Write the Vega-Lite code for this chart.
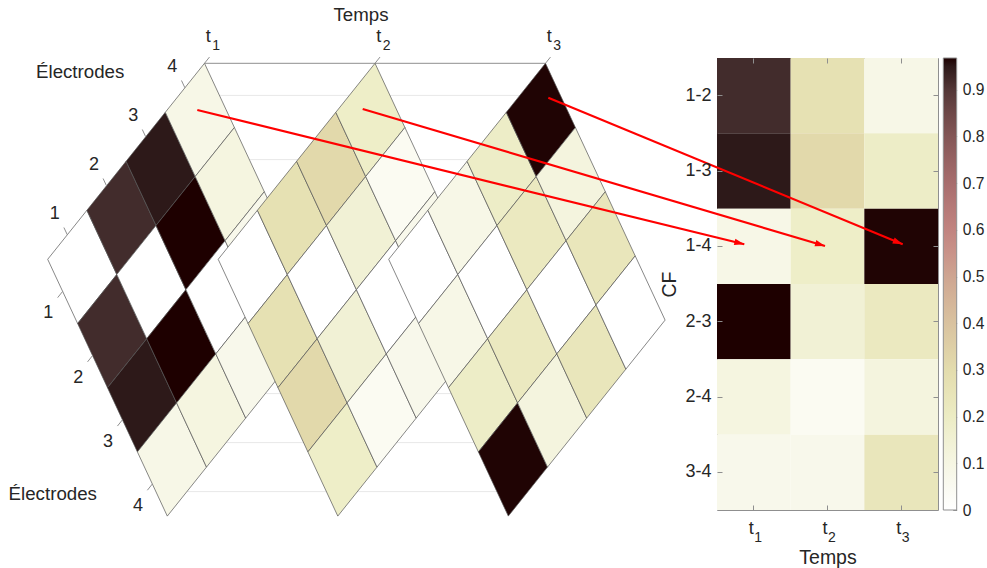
{
"$schema":"https://vega.github.io/schema/vega-lite/v6.json",
"width":221,"height":452,
"autosize":{"type":"none"},
"padding":{"left":717,"top":58,"right":49,"bottom":58},
"background":"white",
"config":{"font":"Liberation Sans","view":{"stroke":"#8f8f8f","strokeWidth":1},"text":{"font":"Liberation Sans","color":"#262626","fontSize":18}},
"datasets":{
"cells":[
{"t":"t₁","i":1,"j":1,"cf":0},{"t":"t₁","i":1,"j":2,"pair":"1-2","cf":0.925},{"t":"t₁","i":1,"j":3,"pair":"1-3","cf":0.95},{"t":"t₁","i":1,"j":4,"pair":"1-4","cf":0.087},
{"t":"t₁","i":2,"j":1,"pair":"1-2","cf":0.925},{"t":"t₁","i":2,"j":2,"cf":0},{"t":"t₁","i":2,"j":3,"pair":"2-3","cf":0.968},{"t":"t₁","i":2,"j":4,"pair":"2-4","cf":0.11},
{"t":"t₁","i":3,"j":1,"pair":"1-3","cf":0.95},{"t":"t₁","i":3,"j":2,"pair":"2-3","cf":0.968},{"t":"t₁","i":3,"j":3,"cf":0},{"t":"t₁","i":3,"j":4,"pair":"3-4","cf":0.07},
{"t":"t₁","i":4,"j":1,"pair":"1-4","cf":0.087},{"t":"t₁","i":4,"j":2,"pair":"2-4","cf":0.11},{"t":"t₁","i":4,"j":3,"pair":"3-4","cf":0.07},{"t":"t₁","i":4,"j":4,"cf":0},
{"t":"t₂","i":1,"j":1,"cf":0},{"t":"t₂","i":1,"j":2,"pair":"1-2","cf":0.27},{"t":"t₂","i":1,"j":3,"pair":"1-3","cf":0.31},{"t":"t₂","i":1,"j":4,"pair":"1-4","cf":0.186},
{"t":"t₂","i":2,"j":1,"pair":"1-2","cf":0.27},{"t":"t₂","i":2,"j":2,"cf":0},{"t":"t₂","i":2,"j":3,"pair":"2-3","cf":0.146},{"t":"t₂","i":2,"j":4,"pair":"2-4","cf":0.045},
{"t":"t₂","i":3,"j":1,"pair":"1-3","cf":0.31},{"t":"t₂","i":3,"j":2,"pair":"2-3","cf":0.146},{"t":"t₂","i":3,"j":3,"cf":0},{"t":"t₂","i":3,"j":4,"pair":"3-4","cf":0.072},
{"t":"t₂","i":4,"j":1,"pair":"1-4","cf":0.186},{"t":"t₂","i":4,"j":2,"pair":"2-4","cf":0.045},{"t":"t₂","i":4,"j":3,"pair":"3-4","cf":0.072},{"t":"t₂","i":4,"j":4,"cf":0},
{"t":"t₃","i":1,"j":1,"cf":0},{"t":"t₃","i":1,"j":2,"pair":"1-2","cf":0.087},{"t":"t₃","i":1,"j":3,"pair":"1-3","cf":0.19},{"t":"t₃","i":1,"j":4,"pair":"1-4","cf":0.965},
{"t":"t₃","i":2,"j":1,"pair":"1-2","cf":0.087},{"t":"t₃","i":2,"j":2,"cf":0},{"t":"t₃","i":2,"j":3,"pair":"2-3","cf":0.218},{"t":"t₃","i":2,"j":4,"pair":"2-4","cf":0.117},
{"t":"t₃","i":3,"j":1,"pair":"1-3","cf":0.19},{"t":"t₃","i":3,"j":2,"pair":"2-3","cf":0.218},{"t":"t₃","i":3,"j":3,"cf":0},{"t":"t₃","i":3,"j":4,"pair":"3-4","cf":0.237},
{"t":"t₃","i":4,"j":1,"pair":"1-4","cf":0.965},{"t":"t₃","i":4,"j":2,"pair":"2-4","cf":0.117},{"t":"t₃","i":4,"j":3,"pair":"3-4","cf":0.237},{"t":"t₃","i":4,"j":4,"cf":0}
],
"grille":[{"t":"t₁","e":1},{"t":"t₃","e":1},{"t":"t₁","e":2},{"t":"t₃","e":2},{"t":"t₁","e":3},{"t":"t₃","e":3},{"t":"t₁","e":4},{"t":"t₃","e":4}],
"axe":[{"t":"t₁"},{"t":"t₂"},{"t":"t₃"}],
"fleches":[{"t":"t₁","bout":"origine"},{"t":"t₁","bout":"cible"},{"t":"t₂","bout":"origine"},{"t":"t₂","bout":"cible"},{"t":"t₃","bout":"origine"},{"t":"t₃","bout":"cible"}]
},
"resolve":{"scale":{"x":"independent","y":"independent","xOffset":"independent","yOffset":"independent"},"axis":{"x":"independent","y":"independent"},"legend":{"fill":"independent"}},
"layer":[
{
 "data":{"name":"grille"},
 "encoding":{"x":{"field":"t","type":"ordinal","axis":null,"scale":{"type":"point","domain":["t₁","t₂","t₃"],"range":[-512.5,-171.5],"padding":0}}},
 "layer":[
  {"mark":{"type":"line","color":"#e8e8e8","strokeWidth":1},
   "encoding":{"xOffset":{"field":"e","type":"quantitative","scale":{"type":"linear","domain":[0.5,4.5],"range":[0,119.6],"zero":false,"nice":false}},
     "y":{"field":"e","type":"quantitative","axis":null,"scale":{"type":"linear","domain":[0.5,4.5],"range":[5.3,262.1],"zero":false,"nice":false}},
     "detail":{"field":"e","type":"nominal"}}},
  {"data":{"name":"axe"},"mark":{"type":"line","color":"#8f8f8f","strokeWidth":1},
   "encoding":{"y":{"datum":0.5,"type":"quantitative","axis":null,"scale":{"type":"linear","domain":[0.5,4.5],"range":[5.3,262.1],"zero":false,"nice":false}}}}
 ]
},
{
 "data":{"name":"grille"},
 "mark":{"type":"line","color":"#e8e8e8","strokeWidth":1},
 "encoding":{"x":{"field":"t","type":"ordinal","axis":null,"scale":{"type":"point","domain":["t₁","t₂","t₃"],"range":[-549.7,-208.7],"padding":0}},
   "xOffset":{"field":"e","type":"quantitative","scale":{"type":"linear","domain":[0.5,4.5],"range":[0,156.8],"zero":false,"nice":false}},
   "y":{"field":"e","type":"quantitative","axis":null,"scale":{"type":"linear","domain":[0.5,4.5],"range":[458.1,262.1],"zero":false,"nice":false}},
   "detail":{"field":"e","type":"nominal"}}
},
{
 "data":{"name":"cells"},
 "transform":[{"filter":"datum.t === 't₁'"}],
 "encoding":{
   "x":{"field":"i","type":"ordinal","axis":null,"scale":{"type":"point","domain":[1,2,3,4],"range":[-669.3,-551.7],"padding":0}},
   "xOffset":{"field":"j","type":"quantitative","scale":{"type":"linear","domain":[0,4],"range":[4.65,124.25],"zero":false,"nice":false}},
   "y":{"field":"i","type":"ordinal","axis":null,"scale":{"type":"point","domain":[4,3,2,1],"range":[5.3,152.3],"padding":0}},
   "yOffset":{"field":"j","type":"quantitative","scale":{"type":"linear","domain":[0,4],"range":[-7.6,249.2],"zero":false,"nice":false}}
 },
 "layer":[
  {"mark":{"type":"point","shape":"M-34.55,-7.6L4.65,-56.6L34.55,7.6L-4.65,56.6Z","size":4,"filled":true,"opacity":1,"stroke":"#555555","strokeWidth":0.7},
   "encoding":{"fill":{"field":"cf","type":"quantitative","legend":null,"scale":{"type":"linear","domain":[0,0.0968,0.1936,0.2904,0.3872,0.484,0.5808,0.6776,0.7744,0.8712,0.9196,0.9438,0.968],"range":["#ffffff","#f6f6e4","#ededc6","#e4deae","#dac6a1","#d0aa93","#c68984","#ae7272","#8e5d5d","#654242","#472f2f","#322121","#1e0000"],"interpolate":"rgb"}}}},
  {"transform":[{"filter":"datum.i === 4 && datum.j === 1"}],"mark":{"type":"point","shape":"M4.65,-56.6L9.65,-62.85","size":4,"filled":false,"opacity":1,"stroke":"#8f8f8f","strokeWidth":1}},
  {"transform":[{"filter":"datum.i === 4 && datum.j === 1"}],"mark":{"type":"text","text":"t","align":"left","baseline":"alphabetic","dx":6,"dy":-78,"fontSize":18}},
  {"transform":[{"filter":"datum.i === 4 && datum.j === 1"}],"mark":{"type":"text","text":"1","align":"left","baseline":"alphabetic","dx":12.5,"dy":-70,"fontSize":14}},
  {"transform":[{"filter":"datum.j === 1"}],"mark":{"type":"point","shape":"M-14.95,-32.1L-18.35,-39.4","size":4,"filled":false,"opacity":1,"stroke":"#8f8f8f","strokeWidth":1}},
  {"transform":[{"filter":"datum.j === 1"}],"mark":{"type":"text","align":"center","baseline":"middle","dx":-27.5,"dy":-53.2,"fontSize":18},"encoding":{"text":{"field":"i","type":"nominal"}}},
  {"transform":[{"filter":"datum.i === 1"}],"mark":{"type":"point","shape":"M-19.6,24.5L-24.6,30.75","size":4,"filled":false,"opacity":1,"stroke":"#8f8f8f","strokeWidth":1}},
  {"transform":[{"filter":"datum.i === 1"}],"mark":{"type":"text","align":"center","baseline":"middle","dx":-34,"dy":46.4,"fontSize":18},"encoding":{"text":{"field":"j","type":"nominal"}}},
  {"transform":[{"filter":"datum.i === 4 && datum.j === 1"}],"mark":{"type":"text","text":"Électrodes","align":"center","baseline":"alphabetic","dx":-119.7,"dy":-41.6,"fontSize":18.7}},
  {"transform":[{"filter":"datum.i === 1 && datum.j === 4"}],"mark":{"type":"text","text":"Électrodes","align":"center","baseline":"alphabetic","dx":-119.2,"dy":40.5,"fontSize":18.7}}
 ]
},
{
 "data":{"name":"cells"},
 "transform":[{"filter":"datum.t === 't₂'"}],
 "encoding":{
   "x":{"field":"i","type":"ordinal","axis":null,"scale":{"type":"point","domain":[1,2,3,4],"range":[-498.8,-381.2],"padding":0}},
   "xOffset":{"field":"j","type":"quantitative","scale":{"type":"linear","domain":[0,4],"range":[4.65,124.25],"zero":false,"nice":false}},
   "y":{"field":"i","type":"ordinal","axis":null,"scale":{"type":"point","domain":[4,3,2,1],"range":[5.3,152.3],"padding":0}},
   "yOffset":{"field":"j","type":"quantitative","scale":{"type":"linear","domain":[0,4],"range":[-7.6,249.2],"zero":false,"nice":false}}
 },
 "layer":[
  {"mark":{"type":"point","shape":"M-34.55,-7.6L4.65,-56.6L34.55,7.6L-4.65,56.6Z","size":4,"filled":true,"opacity":1,"stroke":"#555555","strokeWidth":0.7},
   "encoding":{"fill":{"field":"cf","type":"quantitative","legend":null,"scale":{"type":"linear","domain":[0,0.0968,0.1936,0.2904,0.3872,0.484,0.5808,0.6776,0.7744,0.8712,0.9196,0.9438,0.968],"range":["#ffffff","#f6f6e4","#ededc6","#e4deae","#dac6a1","#d0aa93","#c68984","#ae7272","#8e5d5d","#654242","#472f2f","#322121","#1e0000"],"interpolate":"rgb"}}}},
  {"transform":[{"filter":"datum.i === 4 && datum.j === 1"}],"mark":{"type":"point","shape":"M4.65,-56.6L9.65,-62.85","size":4,"filled":false,"opacity":1,"stroke":"#8f8f8f","strokeWidth":1}},
  {"transform":[{"filter":"datum.i === 4 && datum.j === 1"}],"mark":{"type":"text","text":"t","align":"left","baseline":"alphabetic","dx":6,"dy":-78,"fontSize":18}},
  {"transform":[{"filter":"datum.i === 4 && datum.j === 1"}],"mark":{"type":"text","text":"2","align":"left","baseline":"alphabetic","dx":12.5,"dy":-70,"fontSize":14}},
  {"transform":[{"filter":"datum.i === 4 && datum.j === 1"}],"mark":{"type":"text","text":"Temps","align":"center","baseline":"alphabetic","dx":-9.4,"dy":-99.2,"fontSize":18.7}}
 ]
},
{
 "data":{"name":"cells"},
 "transform":[{"filter":"datum.t === 't₃'"}],
 "encoding":{
   "x":{"field":"i","type":"ordinal","axis":null,"scale":{"type":"point","domain":[1,2,3,4],"range":[-328.3,-210.7],"padding":0}},
   "xOffset":{"field":"j","type":"quantitative","scale":{"type":"linear","domain":[0,4],"range":[4.65,124.25],"zero":false,"nice":false}},
   "y":{"field":"i","type":"ordinal","axis":null,"scale":{"type":"point","domain":[4,3,2,1],"range":[5.3,152.3],"padding":0}},
   "yOffset":{"field":"j","type":"quantitative","scale":{"type":"linear","domain":[0,4],"range":[-7.6,249.2],"zero":false,"nice":false}}
 },
 "layer":[
  {"mark":{"type":"point","shape":"M-34.55,-7.6L4.65,-56.6L34.55,7.6L-4.65,56.6Z","size":4,"filled":true,"opacity":1,"stroke":"#555555","strokeWidth":0.7},
   "encoding":{"fill":{"field":"cf","type":"quantitative","legend":null,"scale":{"type":"linear","domain":[0,0.0968,0.1936,0.2904,0.3872,0.484,0.5808,0.6776,0.7744,0.8712,0.9196,0.9438,0.968],"range":["#ffffff","#f6f6e4","#ededc6","#e4deae","#dac6a1","#d0aa93","#c68984","#ae7272","#8e5d5d","#654242","#472f2f","#322121","#1e0000"],"interpolate":"rgb"}}}},
  {"transform":[{"filter":"datum.i === 4 && datum.j === 1"}],"mark":{"type":"point","shape":"M4.65,-56.6L9.65,-62.85","size":4,"filled":false,"opacity":1,"stroke":"#8f8f8f","strokeWidth":1}},
  {"transform":[{"filter":"datum.i === 4 && datum.j === 1"}],"mark":{"type":"text","text":"t","align":"left","baseline":"alphabetic","dx":6,"dy":-78,"fontSize":18}},
  {"transform":[{"filter":"datum.i === 4 && datum.j === 1"}],"mark":{"type":"text","text":"3","align":"left","baseline":"alphabetic","dx":12.5,"dy":-70,"fontSize":14}}
 ]
},
{
 "data":{"name":"cells"},
 "transform":[{"filter":"datum.i < datum.j"}],
 "resolve":{"axis":{"x":"independent","y":"independent"},"legend":{"fill":"independent"}},
 "layer":[
  {"mark":{"type":"rect"},
   "encoding":{
    "x":{"field":"t","type":"nominal","scale":{"type":"band","domain":["t₁","t₂","t₃"],"padding":0},
      "axis":{"orient":"bottom","title":"Temps","domain":false,"grid":false,"ticks":true,"tickSize":-5,"tickColor":"#8f8f8f","labelExpr":"'t'","labelAlign":"right","labelDx":-3,"labelPadding":14,"labelFontSize":18,"labelColor":"#262626","labelAngle":0,"titleFontSize":19.5,"titleFontWeight":"normal","titleColor":"#262626","titlePadding":11}},
    "y":{"field":"pair","type":"nominal","scale":{"type":"band","domain":["1-2","1-3","1-4","2-3","2-4","3-4"],"padding":0},
      "axis":{"orient":"left","title":"CF","domain":false,"grid":false,"ticks":true,"tickSize":-5,"tickColor":"#8f8f8f","labelPadding":11,"labelFontSize":18,"labelColor":"#262626","titleFontSize":19.5,"titleFontWeight":"normal","titleColor":"#262626","titlePadding":5}},
    "fill":{"field":"cf","type":"quantitative","scale":{"type":"linear","domain":[0,0.0968,0.1936,0.2904,0.3872,0.484,0.5808,0.6776,0.7744,0.8712,0.9196,0.9438,0.968],"range":["#ffffff","#f6f6e4","#ededc6","#e4deae","#dac6a1","#d0aa93","#c68984","#ae7272","#8e5d5d","#654242","#472f2f","#322121","#1e0000"],"interpolate":"rgb"},
      "legend":{"orient":"none","legendX":226.3,"legendY":0,"direction":"vertical","gradientLength":452,"gradientThickness":13.4,"title":null,"values":[0,0.1,0.2,0.3,0.4,0.5,0.6,0.7,0.8,0.9],"labelOpacity":0,"labelFontSize":1,"gradientStrokeColor":"#8f8f8f","gradientStrokeWidth":1,"padding":0}}
   }},
  {"mark":{"type":"rect","opacity":0},
   "encoding":{
    "x":{"field":"t","type":"nominal","scale":{"type":"band","domain":["t₁","t₂","t₃"],"padding":0},
      "axis":{"orient":"top","title":null,"labels":false,"domain":false,"grid":false,"ticks":true,"tickSize":-5,"tickColor":"#8f8f8f"}},
    "y":{"field":"pair","type":"nominal","scale":{"type":"band","domain":["1-2","1-3","1-4","2-3","2-4","3-4"],"padding":0},
      "axis":{"orient":"right","title":null,"labels":false,"domain":false,"grid":false,"ticks":true,"tickSize":-5,"tickColor":"#8f8f8f"}}
   }},
  {"transform":[{"filter":"datum.pair === '3-4' && datum.t === 't₁'"}],"mark":{"type":"text","text":"1","align":"left","baseline":"alphabetic","dx":0.5,"dy":69.4,"fontSize":14},
   "encoding":{"x":{"field":"t","type":"nominal","axis":null,"scale":{"type":"band","domain":["t₁","t₂","t₃"],"padding":0}},"y":{"field":"pair","type":"nominal","axis":null,"scale":{"type":"band","domain":["1-2","1-3","1-4","2-3","2-4","3-4"],"padding":0}}}},
  {"transform":[{"filter":"datum.pair === '3-4' && datum.t === 't₂'"}],"mark":{"type":"text","text":"2","align":"left","baseline":"alphabetic","dx":0.5,"dy":69.4,"fontSize":14},
   "encoding":{"x":{"field":"t","type":"nominal","axis":null,"scale":{"type":"band","domain":["t₁","t₂","t₃"],"padding":0}},"y":{"field":"pair","type":"nominal","axis":null,"scale":{"type":"band","domain":["1-2","1-3","1-4","2-3","2-4","3-4"],"padding":0}}}},
  {"transform":[{"filter":"datum.pair === '3-4' && datum.t === 't₃'"}],"mark":{"type":"text","text":"3","align":"left","baseline":"alphabetic","dx":0.5,"dy":69.4,"fontSize":14},
   "encoding":{"x":{"field":"t","type":"nominal","axis":null,"scale":{"type":"band","domain":["t₁","t₂","t₃"],"padding":0}},"y":{"field":"pair","type":"nominal","axis":null,"scale":{"type":"band","domain":["1-2","1-3","1-4","2-3","2-4","3-4"],"padding":0}}}}
 ]
},
{
 "data":{"name":"cells"},
 "mark":{"type":"tick","opacity":0},
 "encoding":{"y":{"field":"cf","type":"quantitative","scale":{"type":"linear","domain":[0,0.968],"zero":false,"nice":false},
   "axis":{"orient":"right","offset":18.7,"title":null,"values":[0,0.1,0.2,0.3,0.4,0.5,0.6,0.7,0.8,0.9],"format":"~g","domain":false,"grid":false,"ticks":true,"tickSize":-4,"tickColor":"#8f8f8f","labelPadding":9.6,"labelFontSize":15.6,"labelColor":"#262626","labelFlush":false,"labelOverlap":false,"labelBaseline":"middle"}}}
},
{
 "data":{"name":"fleches"},
 "transform":[{"filter":"datum.t === 't₁'"}],
 "encoding":{
  "x":{"field":"bout","type":"ordinal","axis":null,"scale":{"type":"point","domain":["origine","cible"],"range":[-519.7,27.3],"padding":0}},
  "y":{"field":"bout","type":"ordinal","axis":null,"scale":{"type":"point","domain":["origine","cible"],"range":[52,186.3],"padding":0}}
 },
 "layer":[
  {"mark":{"type":"line","color":"#ff0000","strokeWidth":2.2}},
  {"transform":[{"filter":"datum.bout === 'cible'"}],"mark":{"type":"point","shape":"M0,0L-10,-3.2L-10,3.2Z","size":4,"filled":true,"opacity":1,"color":"#ff0000","angle":13.8}}
 ]
},
{
 "data":{"name":"fleches"},
 "transform":[{"filter":"datum.t === 't₂'"}],
 "encoding":{
  "x":{"field":"bout","type":"ordinal","axis":null,"scale":{"type":"point","domain":["origine","cible"],"range":[-354.3,108],"padding":0}},
  "y":{"field":"bout","type":"ordinal","axis":null,"scale":{"type":"point","domain":["origine","cible"],"range":[51,188],"padding":0}}
 },
 "layer":[
  {"mark":{"type":"line","color":"#ff0000","strokeWidth":2.2}},
  {"transform":[{"filter":"datum.bout === 'cible'"}],"mark":{"type":"point","shape":"M0,0L-10,-3.2L-10,3.2Z","size":4,"filled":true,"opacity":1,"color":"#ff0000","angle":16.5}}
 ]
},
{
 "data":{"name":"fleches"},
 "transform":[{"filter":"datum.t === 't₃'"}],
 "encoding":{
  "x":{"field":"bout","type":"ordinal","axis":null,"scale":{"type":"point","domain":["origine","cible"],"range":[-168.7,185.7],"padding":0}},
  "y":{"field":"bout","type":"ordinal","axis":null,"scale":{"type":"point","domain":["origine","cible"],"range":[39.7,186.3],"padding":0}}
 },
 "layer":[
  {"mark":{"type":"line","color":"#ff0000","strokeWidth":2.2}},
  {"transform":[{"filter":"datum.bout === 'cible'"}],"mark":{"type":"point","shape":"M0,0L-10,-3.2L-10,3.2Z","size":4,"filled":true,"opacity":1,"color":"#ff0000","angle":22.5}}
 ]
}
]
}
